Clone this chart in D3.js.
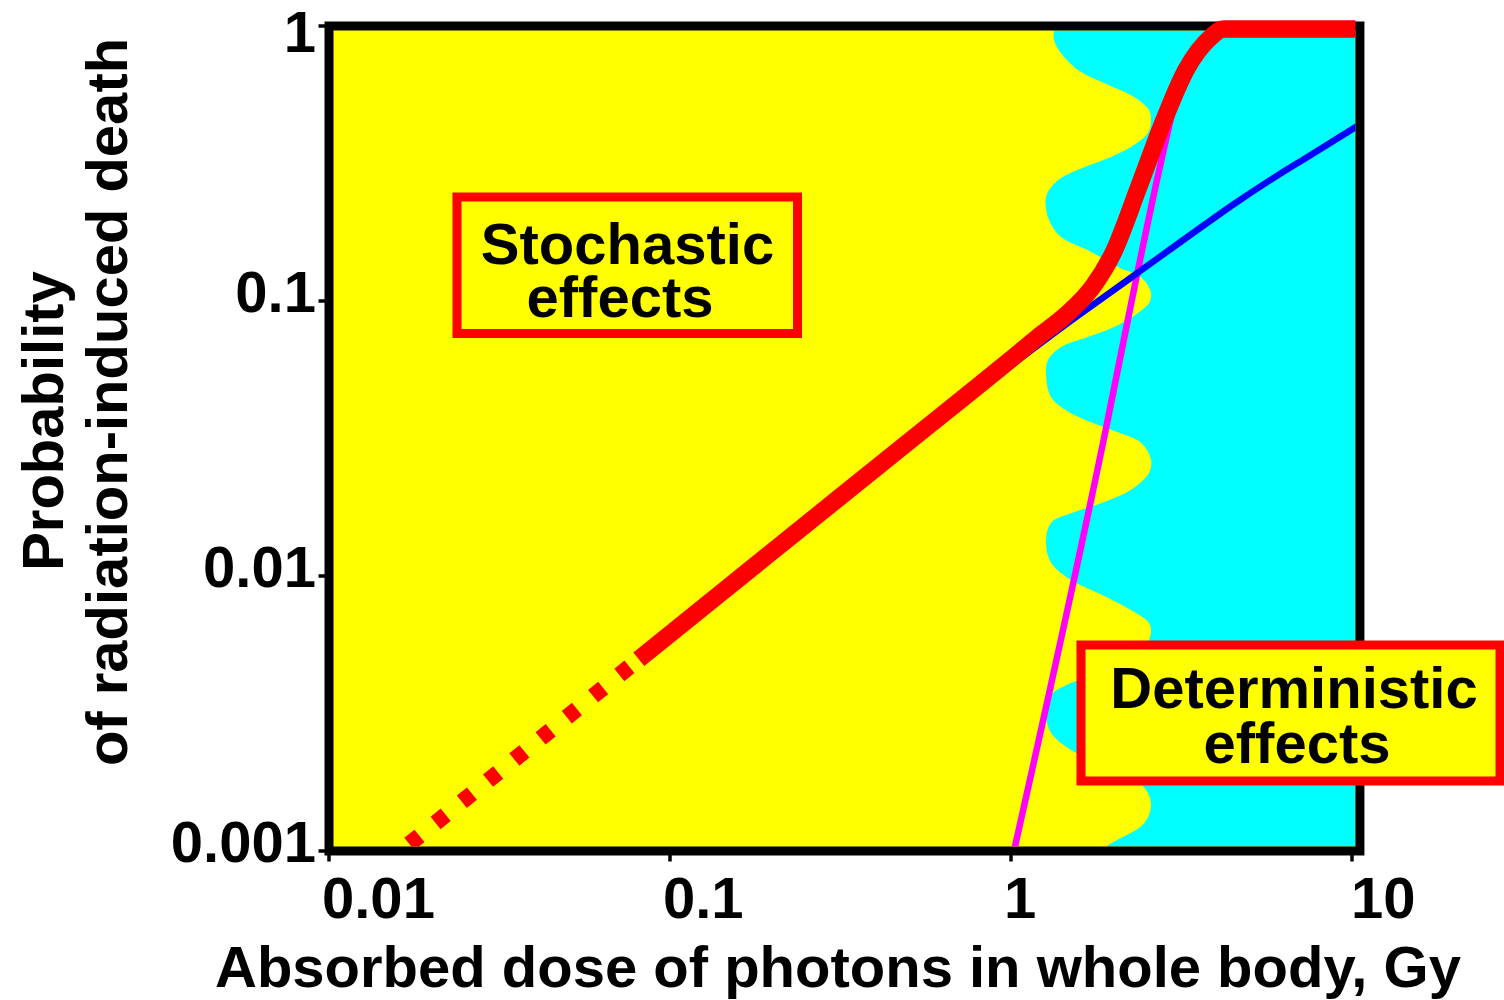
<!DOCTYPE html>
<html><head><meta charset="utf-8">
<script src="https://cdn.jsdelivr.net/npm/d3@7"></script>
<style>
html,body{margin:0;padding:0;background:#fff;}
svg{display:block;}
text{font-family:"Liberation Sans", Arial, Helvetica, sans-serif;font-weight:bold;fill:#000;}
</style></head><body>
<svg id="chart" width="1504" height="1000"></svg>
<script>
// ---------- data ----------
const xTicks = [0.01, 0.1, 1, 10];
const xTickLabels = ["0.01", "0.1", "1", "10"];
const yTicks = [0.001, 0.01, 0.1, 1];
const yTickLabels = ["0.001", "0.01", "0.1", "1"];

const xTitle = "Absorbed dose of photons in whole body, Gy";
const yTitleLines = ["Probability", "of radiation-induced death"];
const stochLabel = ["Stochastic", "effects"];
const determLabel = ["Deterministic", "effects"];

// red dotted extrapolation (low dose)
const dottedDose = [0.0172, 0.0763];
const dottedProb = [0.00106, 0.00469];

// red thick curve (total probability)
const totalDose = [0.081, 0.2, 0.5, 1.0, 1.2, 1.46, 1.74, 1.99, 2.37, 2.81, 3.26, 3.86, 4.2, 10.6];
const totalProb = [0.00498, 0.0123, 0.0307, 0.0614, 0.0740, 0.0897, 0.1130, 0.149, 0.260, 0.455, 0.692, 0.912, 0.975, 0.975];

// blue curve (stochastic)
const stochDose = [0.95, 1.47, 2.295, 4.51, 7.09, 10.6];
const stochProb = [0.0555, 0.0832, 0.1238, 0.2253, 0.323, 0.440];

// magenta curve (deterministic)
const determDose = [0.98, 1.887, 2.357, 2.791, 3.109, 3.418];
const determProb = [0.0008, 0.0331, 0.1297, 0.345, 0.6026, 0.818];

// wavy boundary between yellow and cyan regions
const boundaryProb = [1.05, 0.889, 0.710, 0.620, 0.552, 0.495, 0.455, 0.408, 0.363, 0.326, 0.300, 0.275, 0.239,
  0.197, 0.171, 0.153, 0.133, 0.122, 0.107, 0.0983, 0.0905, 0.0804, 0.0740, 0.0680, 0.0610, 0.0547,
  0.0448, 0.0391, 0.0340, 0.0305, 0.0264, 0.0237, 0.0206, 0.0184, 0.0169, 0.0156, 0.0132,
  0.0112, 0.00967, 0.00868, 0.00752, 0.00675, 0.00626, 0.00538, 0.00495, 0.00444, 0.00408, 0.00369, 0.00318,
  0.00269, 0.00233, 0.00209, 0.00186, 0.00167, 0.00147, 0.00126, 0.00105, 0.00093];
const boundaryDose = [1.364, 1.337, 1.530, 1.874, 2.295, 2.539, 2.574, 2.522, 2.249, 1.874, 1.572, 1.373, 1.267,
  1.293, 1.402, 1.682, 2.060, 2.406, 2.574, 2.539, 2.358, 2.005, 1.682, 1.402, 1.284, 1.267,
  1.310, 1.500, 1.965, 2.406, 2.574, 2.539, 2.249, 1.837, 1.500, 1.310, 1.267,
  1.310, 1.500, 1.800, 2.249, 2.539, 2.574, 2.455, 2.249, 1.837, 1.500, 1.310, 1.267,
  1.310, 1.500, 1.837, 2.249, 2.489, 2.574, 2.455, 1.925, 1.717];

// ---------- layout ----------
const svg = d3.select("#chart");
const xMin = 0.01, xMax = 10.55, yMin = 0.001, yMax = 1;
const x = d3.scaleLog().domain([0.01, 10]).range([329, 1352]);
const y = d3.scaleLog().domain([0.001, 1]).range([851, 26]);
const FW = 9; // frame stroke
const fx0 = x(xMin), fx1 = x(xMax), fy0 = y(yMax), fy1 = y(yMin);

const COL = {yellow:"#ffff00", cyan:"#00ffff", red:"#ff0000", blue:"#0000ff", magenta:"#ff00ff"};

const defs = svg.append("defs");
defs.append("clipPath").attr("id","clipInner").append("rect")
  .attr("x", fx0 + FW/2).attr("y", fy0 + FW/2)
  .attr("width", fx1 - fx0 - FW).attr("height", fy1 - fy0 - FW);
defs.append("clipPath").attr("id","clipLines").append("rect")
  .attr("x", fx0 + FW/2).attr("y", 0)
  .attr("width", fx1 - fx0 - FW).attr("height", fy1 - FW/2);

// background
svg.append("rect").attr("x", fx0).attr("y", fy0).attr("width", fx1 - fx0).attr("height", fy1 - fy0)
  .attr("fill", COL.yellow);

// cyan region
const bPts = boundaryDose.map((d,i)=>[x(d), y(boundaryProb[i])]);
const bPath = d3.line().curve(d3.curveCatmullRom.alpha(0.5))(bPts);
const last = bPts[bPts.length-1], first = bPts[0];
svg.append("path")
  .attr("d", bPath + `L${x(20)},${last[1]}L${x(20)},${first[1]}Z`)
  .attr("fill", COL.cyan).attr("clip-path","url(#clipInner)");

// frame
svg.append("rect").attr("x", fx0).attr("y", fy0).attr("width", fx1 - fx0).attr("height", fy1 - fy0)
  .attr("fill","none").attr("stroke","#000").attr("stroke-width", FW);

// ticks
const tickG = svg.append("g");
xTicks.forEach(t=>{
  tickG.append("line").attr("x1", x(t)).attr("x2", x(t)).attr("y1", fy1).attr("y2", fy1 + FW/2 + 6)
    .attr("stroke","#000").attr("stroke-width",3.5);
});
yTicks.forEach(t=>{
  tickG.append("line").attr("y1", y(t)).attr("y2", y(t)).attr("x1", fx0).attr("x2", fx0 - FW/2 - 6)
    .attr("stroke","#000").attr("stroke-width",3.5);
});

// tick labels
xTicks.forEach((t,i)=>{
  svg.append("text").attr("x", x(t) - (t === 10 ? 1 : 7)).attr("y", 918)
    .attr("font-size", 58).attr("text-anchor","start").text(xTickLabels[i]);
});
yTicks.forEach((t,i)=>{
  svg.append("text").attr("x", 316).attr("y", Math.max(y(t) + 11, 52))
    .attr("font-size", 58).attr("text-anchor","end").text(yTickLabels[i]);
});

// curves
const lineGen = d3.line().x(d=>x(d[0])).y(d=>y(d[1]));
const linesG = svg.append("g").attr("clip-path","url(#clipLines)");

linesG.append("path")
  .attr("d", lineGen.curve(d3.curveMonotoneX)(determDose.map((d,i)=>[d, determProb[i]])))
  .attr("fill","none").attr("stroke", COL.magenta).attr("stroke-width", 6.5);

linesG.append("path")
  .attr("d", lineGen.curve(d3.curveNatural)(stochDose.map((d,i)=>[d, stochProb[i]])))
  .attr("fill","none").attr("stroke", COL.blue).attr("stroke-width", 6.5);

linesG.append("path")
  .attr("d", lineGen.curve(d3.curveLinear)(dottedDose.map((d,i)=>[d, dottedProb[i]])))
  .attr("fill","none").attr("stroke", COL.red).attr("stroke-width", 16)
  .attr("stroke-dasharray","13,20.7");

linesG.append("path")
  .attr("d", lineGen.curve(d3.curveMonotoneX)(totalDose.map((d,i)=>[d, totalProb[i]])))
  .attr("fill","none").attr("stroke", COL.red).attr("stroke-width", 17.5)
  .attr("stroke-linejoin","round");

// label boxes
function box(x0, y0, w, h, lines, cx, baselines){
  svg.append("rect").attr("x", x0).attr("y", y0).attr("width", w).attr("height", h)
    .attr("fill", COL.yellow).attr("stroke", COL.red).attr("stroke-width", 9);
  lines.forEach((s,i)=>{
    svg.append("text").attr("x", cx[i]).attr("y", baselines[i]).attr("font-size",58)
      .attr("text-anchor","middle").text(s);
  });
}
box(457, 197, 340.5, 136.5, stochLabel, [627.5, 620], [264, 317]);
box(1081, 645, 419, 136, determLabel, [1294, 1297], [708, 763]);

// axis titles
svg.append("text").attr("x", 838).attr("y", 987).attr("font-size",58)
  .attr("text-anchor","middle").text(xTitle);
svg.append("text").attr("transform","translate(63,421) rotate(-90)").attr("font-size",58)
  .attr("text-anchor","middle").text(yTitleLines[0]);
svg.append("text").attr("transform","translate(127,402) rotate(-90)").attr("font-size",58)
  .attr("text-anchor","middle").text(yTitleLines[1]);
</script>
</body></html>
